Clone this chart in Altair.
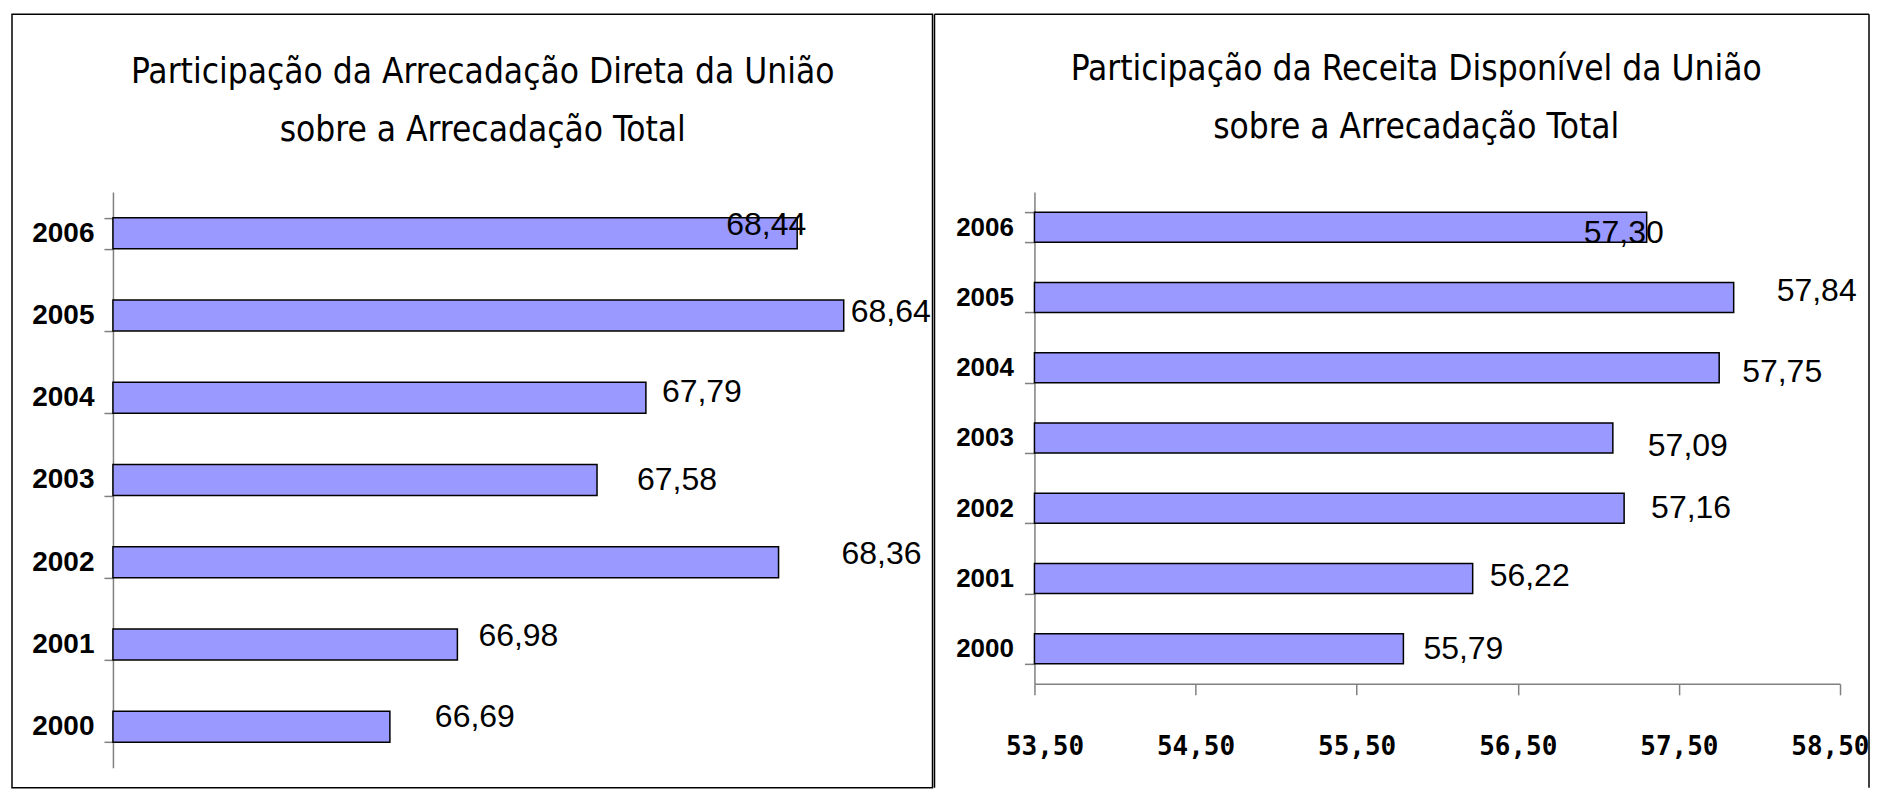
import altair as alt
import pandas as pd

# ---------------- data ----------------
years = ["2000", "2001", "2002", "2003", "2004", "2005", "2006"]
arrecadacao_direta = [66.69, 66.98, 68.36, 67.58, 67.79, 68.64, 68.44]
receita_disponivel = [55.79, 56.22, 57.16, 57.09, 57.75, 57.84, 57.30]

left_title = ["Participação da Arrecadação Direta da União", "sobre a Arrecadação Total"]
right_title = ["Participação da Receita Disponível da União", "sobre a Arrecadação Total"]

left_domain = [65.5, 69.0]
right_domain = [53.5, 58.5]
right_ticks = [53.5, 54.5, 55.5, 56.5, 57.5, 58.5]

# label nudges (pixels) as placed in the original, per year 2000..2006
left_label_dx = [45, 21, 63, 40, 16, 7, -71]
left_label_dy = [-10, -8, -8, 0, -6, -3, -8]
right_label_dx = [20, 17, 27, 35, 23, 43, -63]
right_label_dy = [0, -2, 0, 8, 4, -6, 6]

TITLE_FONT = "DejaVu Sans Condensed, Liberation Sans, Arial"
SANS = "Liberation Sans, Arial"
BAR_FILL = "#9999FF"
AXIS_GREY = "#808080"

one = pd.DataFrame({"k": [0]})
label_expr = "replace(format(datum.value, '.2f'), '.', ',')"


def panel(values, domain, W, H, pad_inner, y_axis, x_axis, dxs, dys, title, tx, ty, border):
    df = pd.DataFrame({"year": years, "value": values})
    base = alt.Chart(df).transform_calculate(label=label_expr)
    X = alt.X("value:Q", scale=alt.Scale(domain=domain, nice=False, zero=False), axis=x_axis, title=None)
    Y = alt.Y("year:N", sort=list(reversed(years)),
              scale=alt.Scale(paddingInner=pad_inner, paddingOuter=pad_inner / 2),
              axis=y_axis, title=None)
    bars = base.mark_bar(fill=BAR_FILL, stroke="black", strokeWidth=1.5).encode(
        x=X, x2=alt.datum(domain[0]), y=Y
    )
    labels = []
    for i, yr in enumerate(years):
        labels.append(
            base.transform_filter(alt.datum.year == yr)
            .mark_text(align="left", baseline="middle", font=SANS, fontSize=32,
                       color="black", dx=dxs[i], dy=dys[i])
            .encode(x=X, y=Y, text="label:N")
        )
    titles = []
    for j, line in enumerate(title):
        titles.append(
            alt.Chart(one).mark_text(align="center", baseline="alphabetic", font=TITLE_FONT,
                                     fontSize=35, color="black")
            .encode(x=alt.value(tx), y=alt.value(ty[j]), text=alt.value(line))
        )
    layers = [border] + [bars] + labels + titles
    return alt.layer(*layers).properties(width=W, height=H)


# left panel
LW, LH = 815, 576
left_border = alt.Chart(one).mark_rect(fill=None, stroke="black", strokeWidth=1.5).encode(
    x=alt.value(-101), x2=alt.value(820), y=alt.value(-178), y2=alt.value(596)
)
left_y_axis = alt.Axis(labelFont=SANS, labelFontWeight="bold", labelFontSize=28,
                       labelColor="black", labelPadding=10, tickSize=9,
                       tickColor=AXIS_GREY, domainColor=AXIS_GREY, domainWidth=1.5,
                       tickWidth=1.5, tickBand="extent", grid=False, labelAngle=0)
left = panel(arrecadacao_direta, left_domain, LW, LH, 0.623, left_y_axis, None,
             left_label_dx, left_label_dy, left_title, 370, [-109, -51], left_border)

# right panel
RW, RH = 806, 492
right_border = alt.layer(
    alt.Chart(one).mark_rule(color="black", strokeWidth=1.5).encode(
        x=alt.value(-100), y=alt.value(-178), y2=alt.value(596)),
    alt.Chart(one).mark_rule(color="black", strokeWidth=1.5).encode(
        x=alt.value(-100), x2=alt.value(835), y=alt.value(-178)),
    alt.Chart(one).mark_rule(color="black", strokeWidth=1.5).encode(
        x=alt.value(835), y=alt.value(-178), y2=alt.value(596)),
)
right_y_axis = alt.Axis(labelFont=SANS, labelFontWeight="bold", labelFontSize=26,
                        labelColor="black", labelPadding=11, tickSize=10,
                        tickColor=AXIS_GREY, domainColor=AXIS_GREY, domainWidth=1.5,
                        tickWidth=1.5, tickBand="extent", grid=False, labelAngle=0)
right_x_axis = alt.Axis(values=right_ticks, labelExpr=label_expr,
                        labelFont="DejaVu Sans Mono", labelFontWeight="bold", labelFontSize=26,
                        labelColor="black", labelPadding=39, tickSize=11,
                        tickColor=AXIS_GREY, domainColor=AXIS_GREY, domainWidth=1.5,
                        tickWidth=1.5, grid=False, labelFlush=True, labelFlushOffset=29,
                        labelOverlap=False)
right = panel(receita_disponivel, right_domain, RW, RH, 0.573, right_y_axis, right_x_axis,
              right_label_dx, right_label_dy, right_title, 382, [-112, -54], right_border)

chart = alt.concat(left, right, columns=2, spacing=0, align="none", bounds="full").properties(
    padding={"left": 3, "top": 5, "right": 0, "bottom": 0},
    background="white",
).configure_view(stroke=None)

chart.save("out.html", embed_options={"renderer": "svg", "actions": False})
